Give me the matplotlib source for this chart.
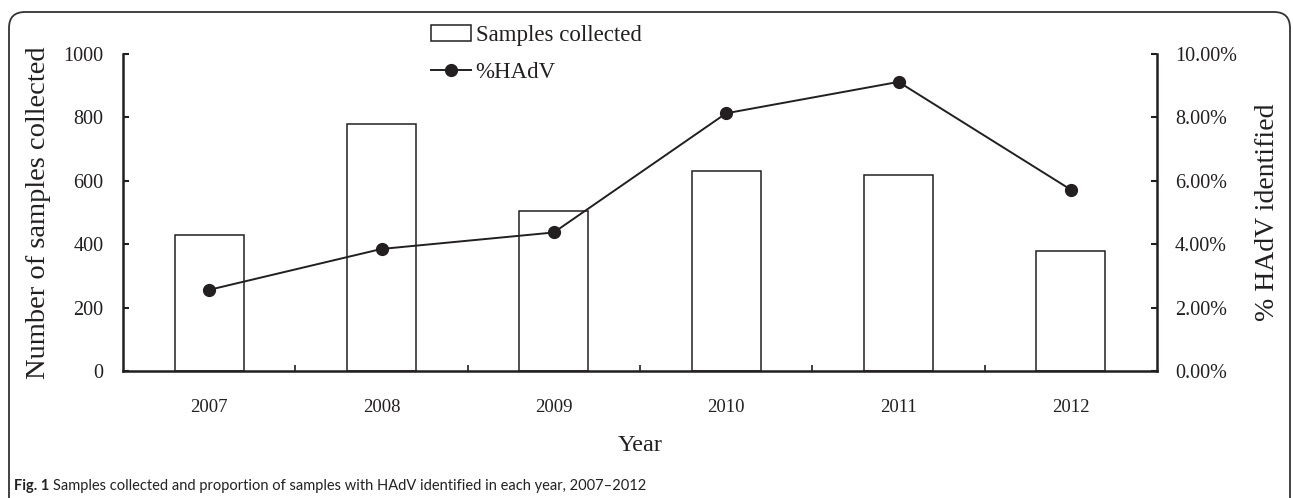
import matplotlib
matplotlib.use('Agg')
import matplotlib.pyplot as plt
import numpy as np
from matplotlib.patches import FancyBboxPatch
from matplotlib.ticker import FixedLocator

years = ['2007', '2008', '2009', '2010', '2011', '2012']
samples = [428, 779, 504, 632, 619, 377]
pct_hadv = [2.56, 3.85, 4.37, 8.13, 9.12, 5.72]
left_ticks = [0, 200, 400, 600, 800, 1000]
right_ticks = [0, 2, 4, 6, 8, 10]

plt.rcParams['font.family'] = ['Liberation Serif', 'DejaVu Serif']
ink = '#231f20'

W, H = 1293, 498
fig = plt.figure(figsize=(W / 100, H / 100), dpi=100)

# rounded frame around the figure (pixel coordinates)
bg = fig.add_axes([0, 0, 1, 1], zorder=-5)
bg.set_xlim(0, W)
bg.set_ylim(0, H)
bg.axis('off')
bg.add_patch(FancyBboxPatch((9, -40), 1281, H - 12 + 40,
                            boxstyle='round,pad=0,rounding_size=16',
                            fc='none', ec='#333333', lw=1.3))

ax = fig.add_axes([123 / W, 1 - 371 / H, (1157 - 123) / W, (371 - 54) / H])
x = np.arange(len(years))
bars = ax.bar(x, samples, width=0.4, color='white', edgecolor=ink, linewidth=1.1,
              label='Samples collected', zorder=2)
ax.set_xlim(-0.5, 5.5)
ax.set_ylim(0, 1000)
ax.set_yticks(left_ticks)
ax.set_xticks(x)
ax.set_xticklabels(years, fontsize=13.5, color=ink)
ax.xaxis.set_minor_locator(FixedLocator(np.arange(0.5, 5.5, 1)))
ax.tick_params(axis='x', which='major', length=0, pad=20)
ax.tick_params(axis='x', which='minor', direction='in', length=4, width=1.2, color=ink)
ax.tick_params(axis='y', direction='in', length=4, width=1.5, labelsize=14.5,
               pad=14, colors=ink)
for s in ['top', 'right']:
    ax.spines[s].set_visible(False)
for s in ['left', 'bottom']:
    ax.spines[s].set_linewidth(1.8)
    ax.spines[s].set_color(ink)
ax.set_ylabel('Number of samples collected', fontsize=20.5, color=ink, labelpad=9)
ax.set_xlabel('Year', fontsize=17.5, color=ink, labelpad=14)

ax2 = ax.twinx()
line, = ax2.plot(x, pct_hadv, color=ink, lw=1.4, marker='o', markersize=8.5,
                 label='%HAdV', zorder=3)
ax2.set_ylim(0, 10)
ax2.set_yticks(right_ticks)
ax2.set_yticklabels(['{:.2f}%'.format(v) for v in right_ticks])
ax2.tick_params(axis='y', direction='in', length=4, width=1.5, labelsize=14.5,
                pad=13, colors=ink)
for s in ['top', 'left', 'bottom']:
    ax2.spines[s].set_visible(False)
ax2.spines['right'].set_linewidth(1.8)
ax2.spines['right'].set_color(ink)
ax2.set_ylabel('% HAdV identified', fontsize=20, color=ink, labelpad=13)

fig.legend([bars, line], ['Samples collected', '%HAdV'], loc='upper left',
           bbox_to_anchor=(431 / W, 1 - 25 / H), frameon=False, fontsize=16.5,
           handlelength=1.75, handletextpad=0.2, borderpad=0, borderaxespad=0,
           labelspacing=0.7, labelcolor=ink)

cap1 = fig.text(14 / W, 1 - 490 / H, 'Fig. 1', fontsize=10.5, fontweight='bold',
                family=['Lato', 'DejaVu Sans'], color='#222222', va='baseline')
fig.canvas.draw()
bb = cap1.get_window_extent()
fig.text((bb.x1 + 4) / W, 1 - 490 / H,
         'Samples collected and proportion of samples with HAdV identified in each year, 2007\u20132012',
         fontsize=10.5, family=['Lato', 'DejaVu Sans'], color='#222222', va='baseline')

fig.savefig('out.png', dpi=100)
